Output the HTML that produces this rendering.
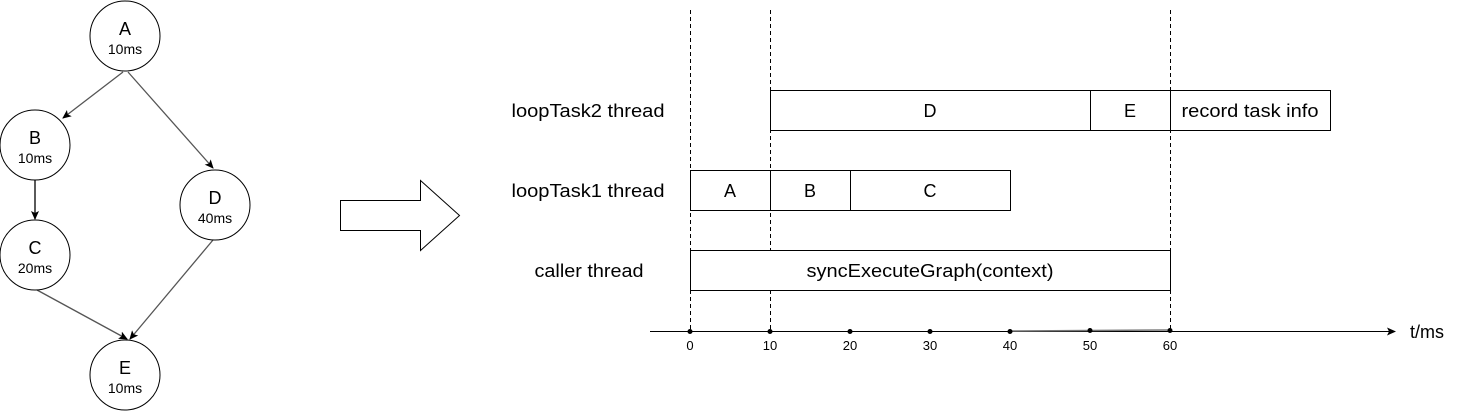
<!DOCTYPE html>
<html><head><style>body{margin:0;background:#fff}</style></head><body>
<svg width="1460" height="411" xmlns="http://www.w3.org/2000/svg" font-family="Liberation Sans, Arial, sans-serif">
<defs><marker id="ar" markerWidth="10" markerHeight="10" refX="8" refY="5" orient="auto" markerUnits="userSpaceOnUse"><path d="M0,1 L9,5 L0,9 L2,5 Z" fill="#000"/></marker></defs>
<g stroke="#555" stroke-width="1.3" fill="none" marker-end="url(#ar)">
<line x1="123" y1="72" x2="63" y2="118"/>
<line x1="128" y1="72" x2="213" y2="168"/>
<line x1="35" y1="180" x2="35" y2="219" stroke="#000"/>
<line x1="37" y1="290" x2="127" y2="339"/>
<line x1="213" y1="240" x2="130" y2="339"/>
</g>
<g fill="#fff" stroke="#000" stroke-width="1">
<circle cx="125" cy="36" r="35"/><circle cx="35" cy="145" r="35"/><circle cx="35" cy="255" r="35"/><circle cx="215" cy="205" r="35"/><circle cx="125" cy="375" r="35"/>
</g>
<g text-anchor="middle" fill="#000">
<text x="125" y="35" font-size="18">A</text><text x="125" y="54" font-size="14">10ms</text>
<text x="35" y="144" font-size="18">B</text><text x="35" y="163" font-size="14">10ms</text>
<text x="35" y="254" font-size="18">C</text><text x="35" y="273" font-size="14">20ms</text>
<text x="215" y="204" font-size="18">D</text><text x="215" y="223" font-size="14">40ms</text>
<text x="125" y="374" font-size="18">E</text><text x="125" y="393" font-size="14">10ms</text>
</g>
<path d="M340.5,200.5 H420.5 V180.5 L459.5,215.5 L420.5,250.5 V230.5 H340.5 Z" fill="#fff" stroke="#000"/>
<g stroke="#000" stroke-dasharray="4,3" stroke-width="1"><line x1="690.5" y1="10" x2="690.5" y2="331"/><line x1="770.5" y1="10" x2="770.5" y2="331"/><line x1="1170.5" y1="10" x2="1170.5" y2="331"/></g>
<g fill="#fff" stroke="#000" stroke-width="1">
<rect x="770.5" y="90.5" width="320" height="40"/><rect x="1090.5" y="90.5" width="80" height="40"/><rect x="1170.5" y="90.5" width="160" height="40"/>
<rect x="690.5" y="170.5" width="80" height="40"/><rect x="770.5" y="170.5" width="80" height="40"/><rect x="850.5" y="170.5" width="160" height="40"/>
<rect x="690.5" y="250.5" width="480" height="40"/>
</g>
<g text-anchor="middle" font-size="18" fill="#000">
<text x="930" y="117">D</text><text x="1130" y="117">E</text><text x="1250" y="117" textLength="137" lengthAdjust="spacingAndGlyphs">record task info</text>
<text x="730" y="197">A</text><text x="810" y="197">B</text><text x="930" y="197">C</text>
<text x="930" y="277" textLength="247" lengthAdjust="spacingAndGlyphs">syncExecuteGraph(context)</text>
<text x="588" y="117" textLength="153" lengthAdjust="spacingAndGlyphs">loopTask2 thread</text><text x="588" y="197" textLength="153" lengthAdjust="spacingAndGlyphs">loopTask1 thread</text><text x="589" y="277" textLength="109" lengthAdjust="spacingAndGlyphs">caller thread</text>
</g>
<line x1="650" y1="331.5" x2="1395" y2="331.5" stroke="#000" marker-end="url(#ar)"/>
<line x1="1010" y1="331" x2="1170" y2="330" stroke="#777" stroke-width="1.5"/>
<g fill="#000"><circle cx="690" cy="331.5" r="2.5"/><circle cx="770" cy="331.5" r="2.5"/><circle cx="850" cy="331.5" r="2.5"/><circle cx="930" cy="331.5" r="2.5"/><circle cx="1010" cy="331.5" r="2.5"/><circle cx="1090" cy="330.5" r="2.5"/><circle cx="1170" cy="330.5" r="2.5"/></g>
<g text-anchor="middle" font-size="13" fill="#000">
<text x="690" y="350">0</text><text x="770" y="350">10</text><text x="850" y="350">20</text><text x="930" y="350">30</text><text x="1010" y="350">40</text><text x="1090" y="350">50</text><text x="1170" y="350">60</text>
</g>
<text x="1410" y="338" font-size="18" fill="#000">t/ms</text>
</svg>
</body></html>
